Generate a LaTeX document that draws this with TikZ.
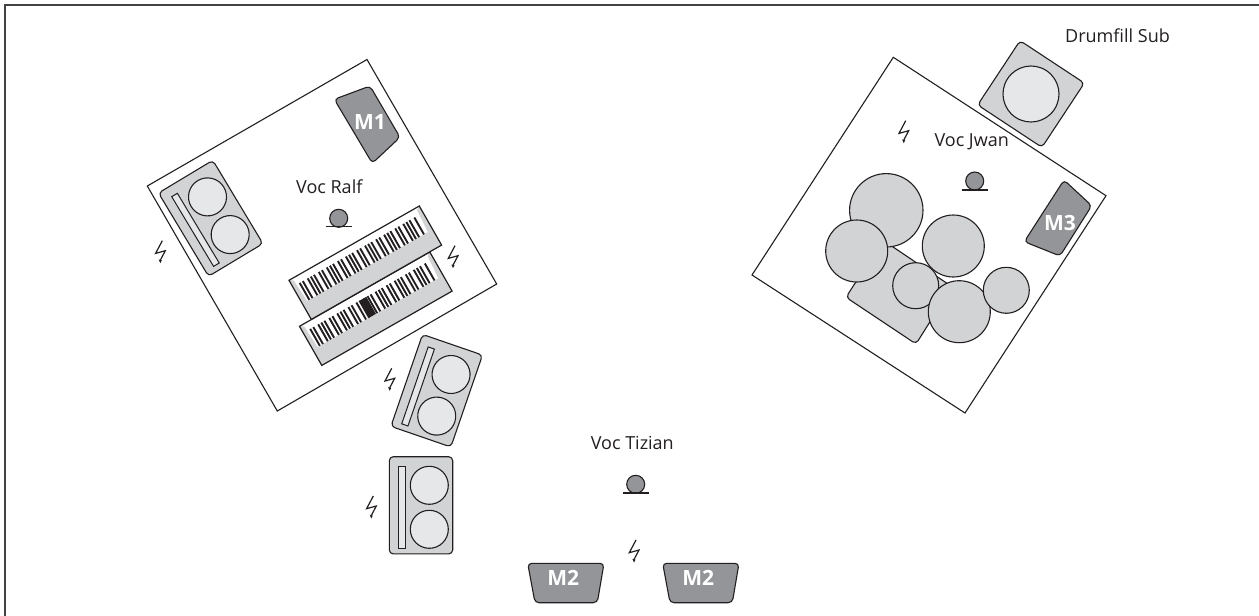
\documentclass[tikz,border=0pt]{standalone}
\usepackage{fontspec}
\setmainfont{Open Sans}
\definecolor{lg}{HTML}{D1D3D4}
\definecolor{vl}{HTML}{E6E7E8}
\definecolor{dg}{HTML}{939598}
\definecolor{ink}{HTML}{231F20}
\tikzset{
  riser/.style={draw=ink,line width=1.1pt,fill=white,line join=miter},
  body/.style={draw=ink,line width=1.1pt,fill=lg,rounded corners=4pt},
  cone/.style={draw=ink,line width=1.1pt,fill=vl},
  drum/.style={draw=ink,line width=1.1pt,fill=lg},
  mon/.style={draw=ink,line width=1.1pt,fill=dg,rounded corners=4pt},
  lab/.style={text=ink,font=\fontsize{18}{20}\selectfont,inner sep=0pt},
  monlab/.style={text=white,font=\fontsize{21}{23}\selectfont\bfseries,inner sep=0pt},
}
\newcommand{\ampbox}[3]{%
  \begin{scope}[shift={(#1,#2)},rotate=#3]
    \draw[body] (-31.7,-48.6) rectangle (31.7,48.6);
    \draw[draw=ink,line width=1pt,fill=vl] (-22.3,-38.6) rectangle (-15.7,42.7);
    \draw[cone] (8.3,-20) circle (19);
    \draw[cone] (8.3,24) circle (19);
  \end{scope}}
\newcommand{\keyboard}[4]{%
  \begin{scope}[shift={(#1,#2)},rotate=#3]
    \fill[white] (-75,-22.5) rectangle (75,4.5);
    \fill[lg] (-75,4.5) rectangle (75,22.5);
    \fill[lg] (-75,-22.5) -- (-71,-20) -- (-69.5,4.5) -- (-75,4.5) -- cycle;
    \fill[lg] (75,-22.5) -- (71,-20) -- (69.5,4.5) -- (75,4.5) -- cycle;
    \foreach \o in {0,1,...,6}{
      \foreach \k in {0,3.6,9.2,12.8,16.4}{
        \pgfmathsetmacro{\xk}{-67+\o*22+\k}
        \pgfmathparse{\xk<68 ? 1 : 0}
        \ifnum\pgfmathresult=1
          \draw[ink,line width=1.9pt] (\xk,-15) -- (\xk,4.5);
        \fi
      }
    }
    #4
    \draw[ink,line width=1.2pt] (-75,-22.5) rectangle (75,22.5);
  \end{scope}}
\newcommand{\bolt}[2]{%
  \begin{scope}[shift={(#1,#2)}]
    \draw[ink,line width=1.2pt,line join=miter] (3,-11) -- (-3.7,1.7) -- (6,-1) -- (1,8.5);
    \fill[ink] (-0.6,7.8) -- (1,11.5) -- (2.5,8.6) -- cycle;
  \end{scope}}
\newcommand{\micstand}[3]{%
  \draw[draw=ink,line width=1.1pt,fill=dg] (#1,#2) circle (9);
  \draw[ink,line width=1.1pt] ({#1-13},#3) -- ({#1+13},#3);}
\begin{document}
\begin{tikzpicture}[x=1pt,y=-1pt]
\useasboundingbox (0,0) rectangle (1259,616);
\fill[white] (0,0) rectangle (1259,616);
\draw[ink!85,line width=1.6pt] (5,616) -- (5,5) -- (1259,5);
% Ralf riser
\draw[riser] (367,59.5) -- (496.7,284) -- (277.3,411) -- (147.3,186) -- cycle;
\ampbox{210.7}{218.3}{31}
\draw[mon] (334.3,99.3) -- (370,86) -- (400,137.3) -- (372.3,163.3) -- cycle;
\node[monlab] (m1) at (370,122.5) {M1};
\node[lab] (ralf) at (329.3,186.7) {Voc Ralf};
\micstand{338.7}{218.3}{226.7}
\keyboard{375.8}{308.7}{29.7}{\fill[ink] (-10.4,-15) rectangle (-2.4,4.5);}
\keyboard{365.3}{262.7}{29.7}{}
\bolt{159.3}{251.7}
\bolt{452}{256.7}
% outboard amps
\ampbox{436.7}{390.7}{-19}
\ampbox{421}{505.3}{0}
\bolt{388.7}{379.3}
\bolt{370.3}{507}
% Jwan riser
\draw[riser] (893.3,57.3) -- (1106,195.7) -- (965,413) -- (752,275) -- cycle;
\begin{scope}[shift={(1031,94)},rotate=-33.4]
  \draw[body] (-38.5,-38.5) rectangle (38.5,38.5);
  \draw[cone] (0,0) circle (28);
\end{scope}
\node[lab,anchor=west] (sub) at (1065,36) {Drumfill Sub};
\bolt{902.7}{131.7}
\node[lab] (jwan) at (971.7,141.7) {Voc Jwan};
\micstand{974.7}{181}{190}
\draw[mon] (1064,180) -- (1091.7,205.7) -- (1060,256) -- (1024.3,241.7) -- cycle;
\node[monlab] (m3) at (1060,223.3) {M3};
% drum kit
\draw[body] (846,297.3) -- (916,344) -- (952,286.7) -- (882.7,240) -- cycle;
\draw[drum] (886.3,210.3) circle (36.7);
\draw[drum] (856.7,251) circle (31);
\draw[drum] (953.3,246) circle (31);
\draw[drum] (915.7,285.7) circle (23);
\draw[drum] (959.3,311.7) circle (31);
\draw[drum] (1006.3,290.3) circle (23);
% Tizian
\node[lab] (tizian) at (632.3,443.3) {Voc Tizian};
\micstand{635.7}{484.3}{493}
\bolt{633}{551}
\draw[mon] (527.7,563.3) -- (604,563.3) -- (597.3,602.7) -- (535,602.7) -- cycle;
\node[monlab] (m2a) at (563.3,578.3) {M2};
\draw[mon] (662.7,563.3) -- (739,563.3) -- (732.3,602.7) -- (670,602.7) -- cycle;
\node[monlab] (m2b) at (698.3,578.3) {M2};
\end{tikzpicture}
\end{document}
